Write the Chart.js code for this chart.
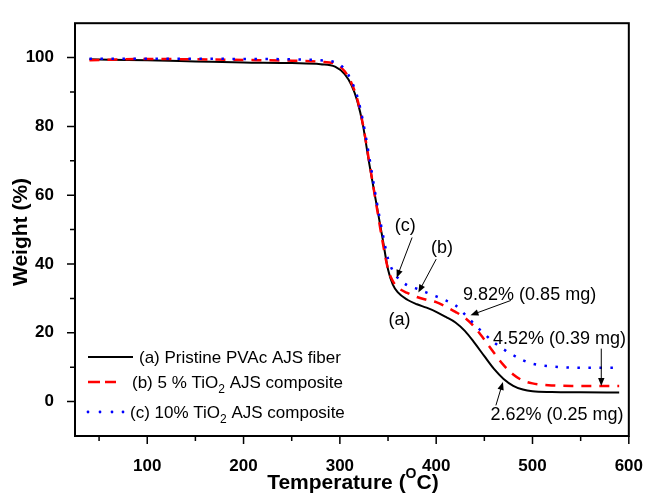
<!DOCTYPE html>
<html>
<head>
<meta charset="utf-8">
<title>TGA curves</title>
<script src="https://cdn.jsdelivr.net/npm/chart.js@4/dist/chart.umd.min.js"></script>
<style>
    html, body { margin: 0; padding: 0; background: #fff; }
    #tgaChart { display: block; }
</style>
</head>
<body>
<canvas id="tgaChart" width="655" height="497"></canvas>
<script>
// Temperature points (°C) shared by the three curves
const temperature = [40, 100, 150, 200, 250, 280, 295, 305, 312, 318, 324, 330, 338, 344, 350, 355, 360,
    370, 380, 390, 400, 410, 420, 430, 440, 450, 460, 470, 480, 490, 500, 520, 550, 590];

// Weight (%) of each sample
const weightPristine = [99.5, 99.2, 98.9, 98.6, 98.4, 98.1, 97.4, 95.2, 92.0, 87.5, 80.3, 70.0, 57.4, 48.0, 38.4, 34.0, 31.8,
    29.6, 28.3, 27.3, 26.1, 24.6, 23.0, 20.5, 17.0, 13.2, 9.5, 6.6, 4.6, 3.5, 3.0, 2.8, 2.7, 2.62];
const weightTiO2Five = [99.2, 99.6, 99.5, 99.3, 99.1, 98.8, 98.2, 96.0, 92.6, 88.0, 80.5, 70.5, 57.0, 47.0, 38.5, 35.0, 33.2,
    31.6, 30.4, 29.6, 28.9, 27.6, 26.1, 24.3, 21.6, 18.0, 14.2, 10.6, 7.9, 6.1, 5.3, 4.7, 4.55, 4.52];
const weightTiO2Ten = [99.7, 99.7, 99.7, 99.6, 99.5, 99.2, 98.6, 96.6, 93.2, 88.8, 81.5, 72.0, 58.5, 49.5, 41.5, 38.0, 36.0,
    33.8, 32.8, 31.7, 30.6, 29.4, 28.0, 25.3, 22.4, 19.7, 17.2, 15.2, 13.5, 12.0, 11.0, 10.2, 9.85, 9.82];

// Axis ticks
const xMajorTicks = [100, 200, 300, 400, 500, 600];
const xMinorTicks = [50, 150, 250, 350, 450, 550];
const yMajorTicks = [0, 20, 40, 60, 80, 100];
const yMinorTicks = [10, 30, 50, 70, 90];

// Callouts on the curves (data coordinates)
const callouts = [
    { text: '(c)', x: 368, y: 51.1, arrow: [375, 47.7, 359, 36.0] },
    { text: '(b)', x: 406, y: 44.6, arrow: [400, 41.4, 381.5, 31.7] },
    { text: '(a)', x: 362, y: 23.7 },
    { text: '9.82% (0.85 mg)', x: 497, y: 30.9, arrow: [477.5, 29.4, 435.6, 25.1] },
    { text: '4.52% (0.39 mg)', x: 528, y: 18.3, arrow: [571.4, 15.4, 571.4, 4.5] },
    { text: '2.62% (0.25 mg)', x: 525.5, y: -4.0, arrow: [462, -1.1, 469.3, 5.7] }
];

const FONT = '"Liberation Sans", Arial, sans-serif';

function toPoints(values) {
    return temperature.map((t, i) => ({ x: t, y: values[i] }));
}

function drawArrow(ctx, x1, y1, x2, y2) {
    const ang = Math.atan2(y2 - y1, x2 - x1);
    const head = 8, half = 3.2;
    ctx.beginPath();
    ctx.moveTo(x1, y1);
    ctx.lineTo(x2 - Math.cos(ang) * head * 0.8, y2 - Math.sin(ang) * head * 0.8);
    ctx.stroke();
    ctx.beginPath();
    ctx.moveTo(x2, y2);
    ctx.lineTo(x2 - Math.cos(ang) * head + Math.sin(ang) * half, y2 - Math.sin(ang) * head - Math.cos(ang) * half);
    ctx.lineTo(x2 - Math.cos(ang) * head - Math.sin(ang) * half, y2 - Math.sin(ang) * head + Math.cos(ang) * half);
    ctx.closePath();
    ctx.fill();
}

// Draws pieces of text in a row; pieces with sub/sup are shifted and smaller
function drawRichText(ctx, parts, x, y, size, weight) {
    let cx = x;
    parts.forEach(p => {
        const s = (p.sub || p.sup) ? Math.round(size * 0.68) : size;
        ctx.font = weight + ' ' + s + 'px ' + FONT;
        const dy = p.sub ? size * 0.38 : (p.sup ? -size * 0.4 : 0);
        ctx.fillText(p.t, cx, y + dy);
        cx += ctx.measureText(p.t).width;
    });
    return cx;
}

function measureRich(ctx, parts, size, weight) {
    let w = 0;
    parts.forEach(p => {
        const s = (p.sub || p.sup) ? Math.round(size * 0.68) : size;
        ctx.font = weight + ' ' + s + 'px ' + FONT;
        w += ctx.measureText(p.t).width;
    });
    return w;
}

const decorPlugin = {
    id: 'decor',
    afterDatasetsDraw(chart) {
        const ctx = chart.ctx;
        const area = chart.chartArea;
        const xs = chart.scales.x, ys = chart.scales.y;
        ctx.save();
        ctx.strokeStyle = '#000';
        ctx.fillStyle = '#000';

        // frame
        ctx.lineWidth = 2;
        ctx.strokeRect(area.left, area.top, area.right - area.left, area.bottom - area.top);

        // tick marks, pointing outwards
        ctx.lineWidth = 1.5;
        ctx.beginPath();
        xMajorTicks.forEach(v => { const px = xs.getPixelForValue(v); ctx.moveTo(px, area.bottom); ctx.lineTo(px, area.bottom + 8); });
        xMinorTicks.forEach(v => { const px = xs.getPixelForValue(v); ctx.moveTo(px, area.bottom); ctx.lineTo(px, area.bottom + 5); });
        yMajorTicks.forEach(v => { const py = ys.getPixelForValue(v); ctx.moveTo(area.left, py); ctx.lineTo(area.left - 8, py); });
        yMinorTicks.forEach(v => { const py = ys.getPixelForValue(v); ctx.moveTo(area.left, py); ctx.lineTo(area.left - 5, py); });
        ctx.stroke();

        // axis titles
        ctx.textBaseline = 'middle';
        const xTitle = [{ t: 'Temperature (' }, { t: 'O', sup: true }, { t: 'C)' }];
        const tw = measureRich(ctx, xTitle, 21, 'bold');
        drawRichText(ctx, xTitle, (area.left + area.right) / 2 - tw / 2 + 1, 483, 21, 'bold');

        ctx.save();
        ctx.translate(21, 232);
        ctx.rotate(-Math.PI / 2);
        ctx.textAlign = 'center';
        ctx.font = 'bold 21px ' + FONT;
        ctx.fillText('Weight (%)', 0, 0);
        ctx.restore();

        // legend: sample line, then label
        ctx.lineWidth = 2;
        ctx.beginPath();
        ctx.moveTo(88, 357);
        ctx.lineTo(133, 357);
        ctx.stroke();

        ctx.strokeStyle = '#ff0000';
        ctx.lineWidth = 2.5;
        ctx.beginPath();
        ctx.moveTo(88, 382); ctx.lineTo(100, 382);
        ctx.moveTo(105, 382); ctx.lineTo(116, 382);
        ctx.stroke();

        ctx.fillStyle = '#0000ff';
        [88, 100, 112, 123].forEach(px => {
            ctx.beginPath();
            ctx.arc(px, 412, 1.4, 0, Math.PI * 2);
            ctx.fill();
        });

        ctx.fillStyle = '#000';
        ctx.strokeStyle = '#000';
        ctx.textAlign = 'left';
        drawRichText(ctx, [{ t: '(a) Pristine PVAc AJS fiber' }], 139, 358, 17, 'normal');
        drawRichText(ctx, [{ t: '(b) 5 % TiO' }, { t: '2', sub: true }, { t: ' AJS composite' }], 132, 383, 17, 'normal');
        drawRichText(ctx, [{ t: '(c) 10% TiO' }, { t: '2', sub: true }, { t: ' AJS composite' }], 130, 413, 17, 'normal');

        // callouts with arrows
        ctx.lineWidth = 1;
        ctx.textAlign = 'center';
        ctx.font = '18px ' + FONT;
        callouts.forEach(c => {
            ctx.fillText(c.text, xs.getPixelForValue(c.x), ys.getPixelForValue(c.y));
            if (c.arrow) {
                const a = c.arrow;
                drawArrow(ctx, xs.getPixelForValue(a[0]), ys.getPixelForValue(a[1]),
                    xs.getPixelForValue(a[2]), ys.getPixelForValue(a[3]));
            }
        });
        ctx.restore();
    }
};

function createChart() {
    new Chart(document.getElementById('tgaChart').getContext('2d'), {
        type: 'line',
        data: {
            datasets: [
                { label: '(a) Pristine PVAc AJS fiber', data: toPoints(weightPristine), borderColor: '#000', borderWidth: 2, order: 3 },
                { label: '(b) 5 % TiO2 AJS composite', data: toPoints(weightTiO2Five), borderColor: '#ff0000', borderWidth: 2.5, borderDash: [10, 8], order: 2 },
                { label: '(c) 10% TiO2 AJS composite', data: toPoints(weightTiO2Ten), borderColor: '#0000ff', borderWidth: 2.5, borderDash: [2.5, 8.5], order: 1 }
            ]
        },
        options: {
            responsive: false,
            animation: false,
            devicePixelRatio: 1,
            layout: { padding: { left: 0, top: 16, right: 17, bottom: 0 } },
            elements: {
                point: { radius: 0 },
                line: { fill: false, cubicInterpolationMode: 'monotone' }
            },
            plugins: {
                legend: { display: false },
                tooltip: { enabled: false },
                title: { display: false }
            },
            scales: {
                x: {
                    type: 'linear',
                    min: 25,
                    max: 600,
                    afterBuildTicks: scale => { scale.ticks = xMajorTicks.map(v => ({ value: v })); },
                    afterFit: scale => { scale.height = 61; },
                    grid: { display: false },
                    border: { display: false },
                    ticks: { color: '#000', padding: 12, maxRotation: 0, autoSkip: false, font: { family: FONT, size: 17, weight: 'bold' } }
                },
                y: {
                    min: -10,
                    max: 110,
                    afterBuildTicks: scale => { scale.ticks = yMajorTicks.map(v => ({ value: v })); },
                    afterFit: scale => { scale.width = 75; },
                    grid: { display: false },
                    border: { display: false },
                    ticks: { color: '#000', padding: 13, autoSkip: false, font: { family: FONT, size: 17, weight: 'bold' } }
                }
            }
        },
        plugins: [decorPlugin]
    });
}

document.addEventListener('DOMContentLoaded', createChart);
</script>
</body>
</html>
